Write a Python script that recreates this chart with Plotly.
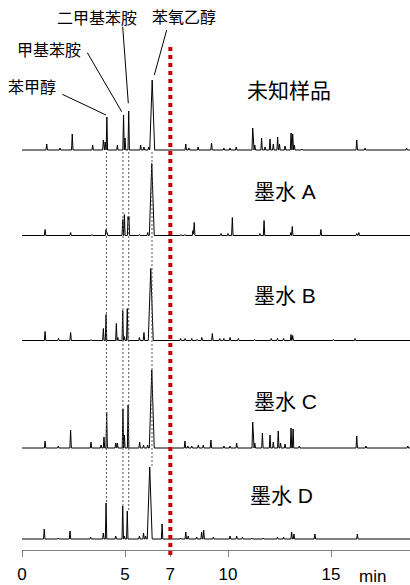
import numpy as np
import plotly.graph_objects as go

# ---------------- data ----------------
# retention time (min) and peak height (relative units) for each chromatogram
sample_rt = [1.2, 1.84, 2.44, 3.43, 3.95, 4.04, 4.12, 4.63, 4.93, 5.0, 5.18, 5.76, 5.92, 6.15, 6.32,
             7.95, 8.1, 8.55, 9.2, 9.8, 10.1, 10.4, 11.2, 11.3, 11.63, 11.8, 12.04, 12.2, 12.41, 12.5,
             12.77, 13.06, 13.14, 13.22, 13.58, 16.25, 16.65, 18.67]
sample_h = [6, 2, 16, 5, 10, 8, 33, 5, 35, 12, 39, 5, 3, 3, 70,
            6, 2, 3, 7, 2, 2, 3, 22, 5, 12, 3, 11, 6, 13, 6,
            4, 17, 16, 5, 1, 10, 2, 2]

inkA_rt = [1.12, 2.36, 3.4, 4.08, 4.13, 4.89, 4.97, 5.15, 5.19, 5.7, 6.1, 6.3, 7.72, 7.91, 8.3, 8.36,
           9.66, 10.0, 10.21, 11.55, 11.75, 13.05, 13.12, 14.51, 16.25, 16.35]
inkA_h = [6, 3, 1, 6, 3, 16, 21, 19, 19, 1, 3, 72, 1, 1, 5, 13,
          2, 2, 18, 2, 15, 3, 9, 6, 2, 3]

inkB_rt = [1.12, 1.77, 2.36, 3.35, 3.95, 4.08, 4.58, 4.65, 4.89, 4.97, 5.11, 5.7, 5.92, 6.25,
           7.7, 7.92, 8.24, 8.5, 8.73, 9.24, 9.6, 9.8, 10.1, 10.5, 11.3, 12.1, 12.4, 12.7,
           13.06, 13.14, 15.11, 16.17]
inkB_h = [9, 2, 8, 1, 12, 26, 17, 3, 30, 4, 32, 3, 8, 72,
          2, 2, 2, 1, 3, 7, 2, 2, 3, 2, 1, 2, 2, 2,
          6, 5, 1, 2]

inkC_rt = [1.12, 1.76, 2.36, 3.35, 3.84, 3.98, 4.11, 4.55, 4.63, 4.9, 4.97, 5.15, 5.71, 5.9, 6.1, 6.3,
           7.91, 8.05, 8.24, 8.56, 8.8, 9.17, 9.8, 10.1, 10.42, 11.2, 11.3, 11.67, 12.04, 12.2,
           12.44, 12.55, 12.77, 13.06, 13.16, 13.46, 16.25, 16.7, 18.73]
inkC_h = [7, 2, 18, 6, 3, 11, 36, 5, 5, 39, 13, 43, 6, 3, 3, 78,
          7, 2, 2, 3, 3, 8, 2, 2, 5, 26, 5, 15, 13, 6,
          17, 5, 4, 20, 19, 2, 12, 2, 2]

inkD_rt = [1.08, 1.77, 2.33, 3.33, 3.95, 4.08, 4.55, 4.89, 4.97, 5.11, 5.7, 5.9, 6.0, 6.2, 6.8,
           7.7, 7.95, 8.07, 8.48, 8.72, 8.82, 9.29, 10.1, 10.42, 10.7, 11.15, 11.7, 12.4, 12.7,
           13.09, 13.2, 14.22, 16.28]
inkD_h = [10, 1, 8, 2, 6, 36, 3, 33, 3, 28, 3, 6, 3, 72, 15,
          1, 7, 3, 2, 7, 9, 2, 3, 3, 2, 1, 1, 2, 2,
          7, 5, 5, 5]

trace_names = ["未知样品", "墨水 A", "墨水 B", "墨水 C", "墨水 D"]

# marker compounds (retention times) and their names
compound_rt = [4.1, 4.9, 5.18, 6.31]
compound_names = ["苯甲醇", "甲基苯胺", "二甲基苯胺", "苯氧乙醇"]

marker_time = 7.2          # red dotted reference line, labelled "7"
tick_vals = [0, 5, 7.2, 10, 15]
tick_text = ["0", "5", "7", "10", "15"]
run_end = 18.84

# ---------------- layout / style (positions, not data) ----------------
W, H = 410, 585
X0_PX = 22            # pixel position of t = 0
AX_Y_PX = 550         # pixel position of the time axis
X_MAX = 18.835
offsets = [400, 314.5, 209.5, 102, 11]     # vertical offset of each trace (px above axis)
label_pos = [(245, 90), (251.5, 192), (251.5, 295), (251.5, 401), (247.5, 495)]
cmp_label_pos = [(31.5, 87), (48.5, 50), (97, 19), (184, 17)]
callouts = [  # (x0_px, y0_px, x1_px, y1_px)
    (62.3, 94.3, 106.0, 115.0),
    (87.3, 52.7, 121.7, 111.7),
    (122.7, 26.7, 128.3, 103.3),
    (166.7, 30.0, 154.3, 75.0),
]
PEAK_W = 0.035
BROAD_W = 0.12
FONT = "Liberation Sans, Arial, Noto Sans CJK SC, sans-serif"

dom0 = X0_PX / W


def px_to_t(px):
    return (px - X0_PX) / (W - X0_PX) * X_MAX


def px_to_y(py):
    return AX_Y_PX - py


def build(rt, h):
    xs = {0.0, run_end}
    for t, hh in zip(rt, h):
        w = BROAD_W if hh > 50 else PEAK_W
        xs.update([t - w, t, t + w])
    xs = np.array(sorted(xs))
    ys = np.zeros_like(xs)
    for t, hh in zip(rt, h):
        w = BROAD_W if hh > 50 else PEAK_W
        ys += hh * np.clip(1 - np.abs(xs - t) / w, 0, None)
    return xs, ys


series = [(sample_rt, sample_h), (inkA_rt, inkA_h), (inkB_rt, inkB_h),
          (inkC_rt, inkC_h), (inkD_rt, inkD_h)]

fig = go.Figure()
for (rt, h), off, name in zip(series, offsets, trace_names):
    xs, ys = build(rt, h)
    fig.add_trace(go.Scatter(x=xs, y=ys + off, mode="lines", name=name,
                             line=dict(color="black", width=1), hoverinfo="skip",
                             showlegend=False))

shapes = []
# grey dashed lines linking the marker compounds
for t in compound_rt:
    i = int(np.argmin(np.abs(np.array(inkD_rt) - t)))
    bottom = offsets[4] + inkD_h[i]
    shapes.append(dict(type="line", xref="x", yref="y", x0=t, x1=t,
                       y0=offsets[0] - 2, y1=bottom,
                       line=dict(color="#555555", width=1, dash="2px,2px")))

# callout lines
for (x0, y0, x1, y1) in callouts:
    shapes.append(dict(type="line", xref="x", yref="y",
                       x0=px_to_t(x0), y0=px_to_y(y0), x1=px_to_t(x1), y1=px_to_y(y1),
                       line=dict(color="black", width=1)))

# red dotted reference line (drawn from the top down)
mx = dom0 + marker_time / X_MAX * (1 - dom0)
shapes.append(dict(type="line", xref="paper", yref="paper", x0=mx, x1=mx,
                   y0=1 - 47 / H, y1=1 - 556 / H,
                   line=dict(color="#d00000", width=4, dash="4px,4px")))

annotations = []
for (px, py), name in zip(label_pos, trace_names):
    annotations.append(dict(xref="paper", yref="paper", x=px / W, y=1 - py / H,
                            text=name, showarrow=False, xanchor="left", yanchor="middle",
                            font=dict(size=21, color="black", family=FONT)))
for (px, py), name in zip(cmp_label_pos, compound_names):
    annotations.append(dict(xref="paper", yref="paper", x=px / W, y=1 - py / H,
                            text=name, showarrow=False, xanchor="center", yanchor="middle",
                            font=dict(size=16, color="black", family=FONT)))
annotations.append(dict(xref="paper", yref="paper", x=372 / W, y=1 - 576 / H, text="min",
                        showarrow=False, xanchor="center", yanchor="middle",
                        font=dict(size=17, color="black", family=FONT)))

fig.update_layout(
    template="none",
    width=W, height=H, autosize=False,
    margin=dict(l=0, r=0, t=0, b=0, pad=0, autoexpand=False),
    paper_bgcolor="white", plot_bgcolor="white",
    shapes=shapes, annotations=annotations,
    xaxis=dict(domain=[dom0, 1], range=[0, X_MAX], showgrid=False, zeroline=False,
               automargin=False,
               showline=True, linecolor="#808080", linewidth=1,
               ticks="outside", ticklen=6, tickcolor="#808080", tickwidth=1,
               tickvals=tick_vals, ticktext=tick_text, ticklabelstandoff=3,
               tickfont=dict(size=17, color="black", family=FONT)),
    yaxis=dict(domain=[1 - AX_Y_PX / H, 1], range=[0, AX_Y_PX], visible=False,
               automargin=False),
)

fig.write_html("out.html", config={"displayModeBar": False},
               post_script="document.body.style.margin='0';document.body.style.padding='0';")
